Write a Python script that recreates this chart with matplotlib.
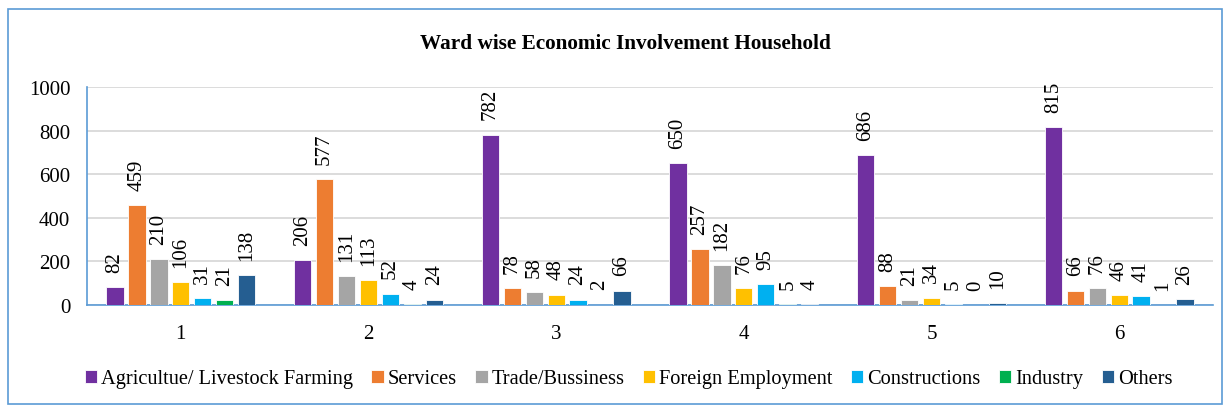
import matplotlib
matplotlib.use('Agg')
import matplotlib.pyplot as plt
import numpy as np
from matplotlib.patches import Rectangle

# data
wards = ['1', '2', '3', '4', '5', '6']
categories = ['Agricultue/ Livestock Farming', 'Services', 'Trade/Bussiness',
              'Foreign Employment', 'Constructions', 'Industry', 'Others']
agriculture = [82, 206, 782, 650, 686, 815]
services = [459, 577, 78, 257, 88, 66]
trade = [210, 131, 58, 182, 21, 76]
foreign = [106, 113, 48, 76, 34, 46]
constructions = [31, 52, 24, 95, 5, 41]
industry = [21, 4, 2, 5, 0, 1]
others = [138, 24, 66, 4, 10, 26]
series = [agriculture, services, trade, foreign, constructions, industry, others]
colors = ['#7030a0', '#ed7d31', '#a5a5a5', '#ffc000', '#00b0f0', '#00b050', '#255e91']

serif = ['Liberation Serif', 'DejaVu Serif']
plt.rcParams['font.family'] = serif

fig = plt.figure(figsize=(12.28, 4.10), dpi=100)
ax = fig.add_axes([87/1228, 1 - 306/410, (1213-87)/1228, (306-88)/410])

# outer chart border
fig.patches.append(Rectangle((8/1228, 5/410), 1214/1228, 395/410, transform=fig.transFigure,
                             fill=False, edgecolor='#5b9bd5', linewidth=1.2))

x = np.arange(len(wards))
step = 0.117
width = 0.092
for i, (vals, col, name) in enumerate(zip(series, colors, categories)):
    pos = x + (i - 3) * step
    bars = ax.bar(pos, vals, width=width, color=col, edgecolor='white', linewidth=0.6,
                  label=name, zorder=3)
    for b, v in zip(bars, vals):
        ax.annotate(str(v), (b.get_x() + b.get_width()/2, v), xytext=(0, 11),
                    textcoords='offset points', rotation=90, ha='center', va='bottom',
                    fontsize=15, family=serif)

ax.set_xlim(-0.5, 5.5)
ax.set_ylim(0, 1000)
ax.set_yticks(range(0, 1001, 200))
ax.set_xticks(x)
ax.set_xticklabels(wards)
ax.tick_params(axis='both', length=0, labelsize=15)
ax.tick_params(axis='x', pad=14)
ax.tick_params(axis='y', pad=12)
ax.grid(axis='y', color='#d9d9d9', linewidth=1.3, zorder=0)
for s in ['top', 'right']:
    ax.spines[s].set_visible(False)
ax.spines['left'].set_color('#5b9bd5')
ax.spines['bottom'].set_color('#5b9bd5')
ax.spines['left'].set_linewidth(1.2)
ax.spines['bottom'].set_linewidth(1.2)

fig.text(0.509, 1 - 44/410, 'Ward wise Economic Involvement Household', ha='center', va='center',
         fontsize=15.3, fontweight='bold', family=serif)

fig.legend(loc='center', bbox_to_anchor=(0.512, 1 - 380/410), ncol=7, frameon=False,
           prop={'family': serif, 'size': 14.7}, handlelength=0.6, handleheight=0.6,
           handletextpad=0.2, columnspacing=0.9)

fig.savefig('out.png', dpi=100)
